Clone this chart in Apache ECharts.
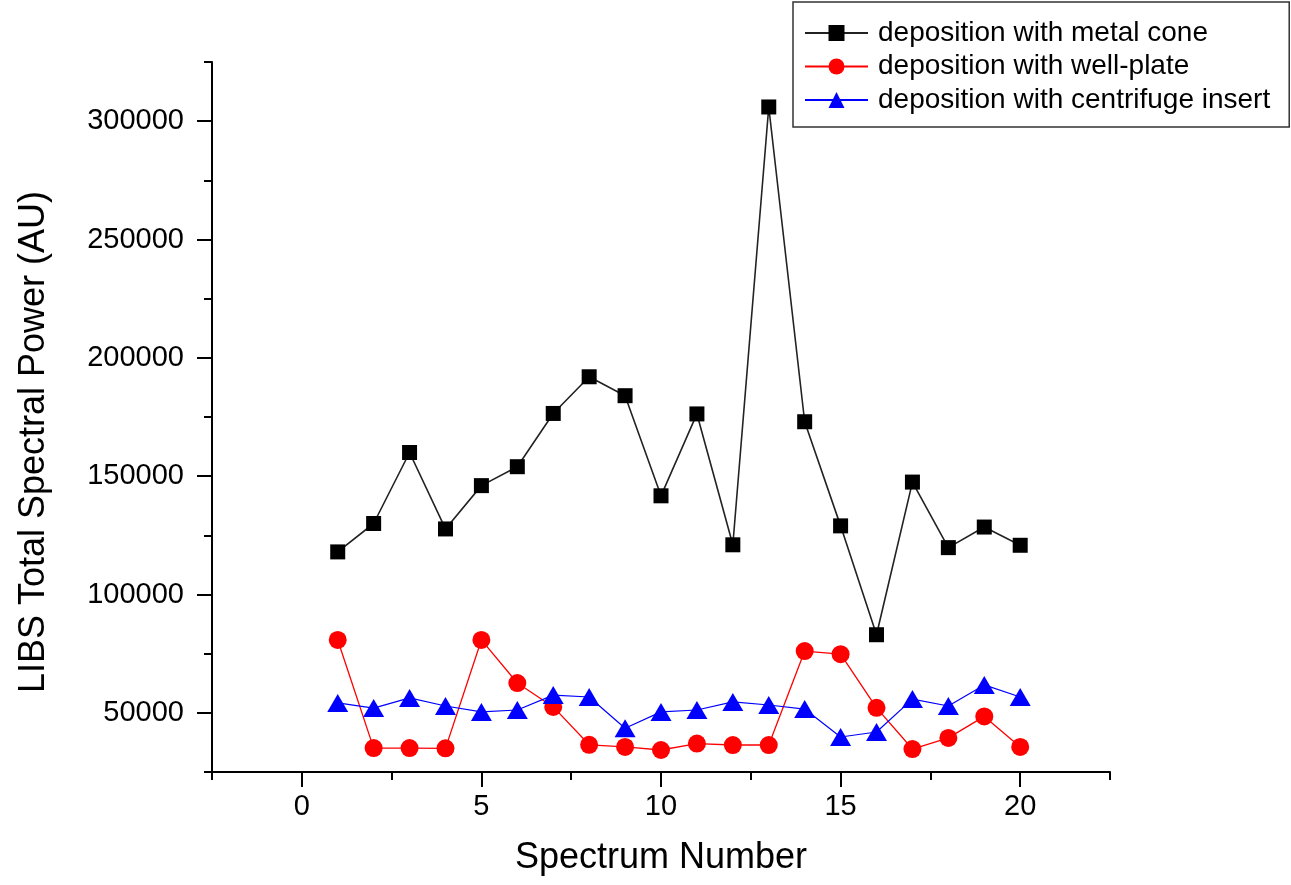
<!DOCTYPE html>
<html>
<head>
<meta charset="utf-8">
<title>LIBS Total Spectral Power</title>
<script src="https://cdn.jsdelivr.net/npm/echarts@6/dist/echarts.min.js"></script>
<style>
  html, body { margin: 0; padding: 0; background: #fff; }
  #chart { width: 1291px; height: 885px; }
</style>
</head>
<body>
<div id="chart"></div>
<script>
// Spectrum numbers (x values)
const spectrumNumbers = [1, 2, 3, 4, 5, 6, 7, 8, 9, 10, 11, 12, 13, 14, 15, 16, 17, 18, 19, 20];

// Total spectral power per spectrum (AU)
const metalCone = [118000, 130000, 160000, 127700, 146000, 154000, 176500, 192000, 184000, 141700,
                   176300, 121000, 306000, 173000, 129000, 83000, 147500, 119800, 128500, 120800];
const wellPlate = [80800, 35100, 35100, 35000, 80800, 62600, 52500, 36500, 35600, 34300,
                   37000, 36400, 36400, 76100, 74800, 52100, 34700, 39400, 48500, 35600];
const centrifugeInsert = [54200, 52000, 56300, 52900, 50400, 51200, 57500, 56700, 43500, 50400,
                          51200, 54600, 53300, 51600, 39800, 41900, 55800, 52900, 61800, 56700];

const seriesNames = [
  'deposition with metal cone',
  'deposition with well-plate',
  'deposition with centrifuge insert'
];

// Tick positions
const xMajorTicks = [0, 5, 10, 15, 20];
const xMinorTicks = [-2.5, 2.5, 7.5, 12.5, 17.5, 22.5];
const yMajorTicks = [50000, 100000, 150000, 200000, 250000, 300000];
const yMinorTicks = [25000, 75000, 125000, 175000, 225000, 275000, 325000];

const FONT = "'Liberation Sans', Arial, sans-serif";

const pairs = vals => spectrumNumbers.map((x, i) => [x, vals[i]]);

const chart = echarts.init(document.getElementById('chart'), null, { renderer: 'canvas' });

const axisLineStyle = { color: '#000', width: 2 };

chart.setOption({
  animation: false,
  backgroundColor: '#fff',
  textStyle: { fontFamily: FONT },
  grid: { left: 212, right: 181, top: 62, bottom: 113, containLabel: false },
  legend: {
    orient: 'vertical',
    left: 793,
    top: 2,
    padding: [17, 19, 13, 11],
    itemWidth: 63,
    itemHeight: 20,
    itemGap: 5.5,
    borderColor: '#333',
    borderWidth: 1.5,
    textStyle: { fontFamily: FONT, fontSize: 28, color: '#000', lineHeight: 28, padding: [0, 0, 0, 5] },
    data: seriesNames
  },
  xAxis: [{
    type: 'value',
    min: -2.5,
    max: 22.5,
    interval: 2.5,
    name: 'Spectrum Number',
    nameLocation: 'middle',
    nameGap: 68,
    nameTextStyle: { fontFamily: FONT, fontSize: 36, color: '#000' },
    axisLine: { show: true, onZero: false, lineStyle: axisLineStyle },
    axisTick: { show: true, length: 15, lineStyle: axisLineStyle, customValues: xMajorTicks },
    axisLabel: { fontFamily: FONT, fontSize: 29, color: '#000', margin: 20, customValues: xMajorTicks },
    splitLine: { show: false }
  }, {
    type: 'value',
    position: 'bottom',
    min: -2.5,
    max: 22.5,
    interval: 2.5,
    axisLine: { show: false, onZero: false },
    axisTick: { show: true, length: 8, lineStyle: axisLineStyle, customValues: xMinorTicks },
    axisLabel: { show: false },
    splitLine: { show: false }
  }],
  yAxis: [{
    type: 'value',
    position: 'left',
    min: 25000,
    max: 325000,
    interval: 25000,
    name: 'LIBS Total Spectral Power (AU)',
    nameLocation: 'middle',
    nameGap: 160,
    nameTextStyle: { fontFamily: FONT, fontSize: 36, color: '#000', padding: [0, 50, 0, 0] },
    axisLine: { show: true, onZero: false, lineStyle: axisLineStyle },
    axisTick: { show: true, length: 15, lineStyle: axisLineStyle, customValues: yMajorTicks },
    axisLabel: {
      fontFamily: FONT, fontSize: 29, color: '#000', margin: 28,
      customValues: yMajorTicks,
      formatter: v => String(v)
    },
    splitLine: { show: false }
  }, {
    type: 'value',
    position: 'left',
    offset: 0,
    min: 25000,
    max: 325000,
    interval: 25000,
    axisLine: { show: false, onZero: false },
    axisTick: { show: true, length: 8, lineStyle: axisLineStyle, customValues: yMinorTicks },
    axisLabel: { show: false },
    splitLine: { show: false }
  }],
  series: [{
    name: seriesNames[0],
    type: 'line',
    data: pairs(metalCone),
    symbol: 'rect',
    symbolSize: 15,
    lineStyle: { color: '#222', width: 1.6 },
    itemStyle: { color: '#000' },
    z: 3
  }, {
    name: seriesNames[1],
    type: 'line',
    data: pairs(wellPlate),
    symbol: 'circle',
    symbolSize: 18,
    lineStyle: { color: '#ff0000', width: 1.3 },
    itemStyle: { color: '#ff0000' },
    z: 4
  }, {
    name: seriesNames[2],
    type: 'line',
    data: pairs(centrifugeInsert),
    symbol: 'triangle',
    symbolSize: [21, 18],
    lineStyle: { color: '#0000ff', width: 1.2 },
    itemStyle: { color: '#0000ff' },
    z: 5
  }]
});
</script>
</body>
</html>
